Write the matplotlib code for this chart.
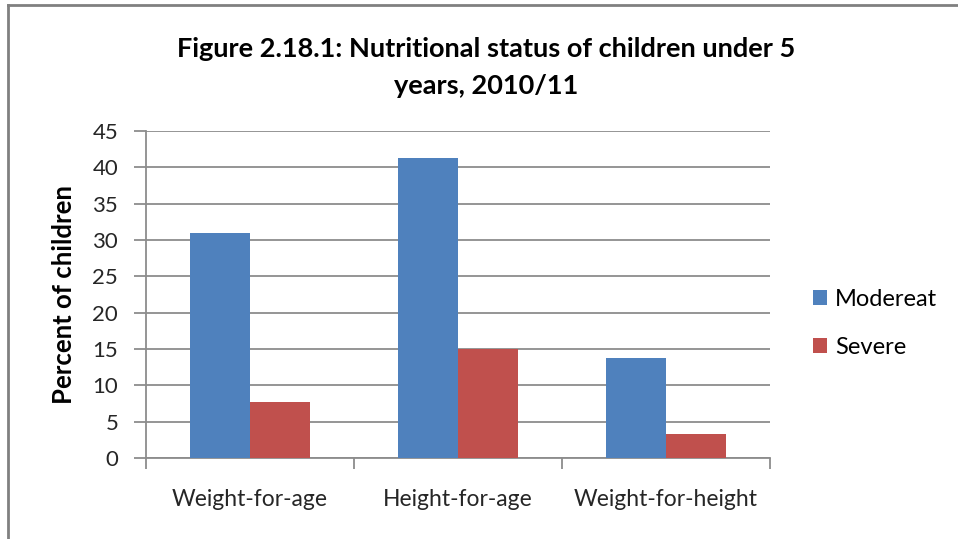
import numpy as np
import matplotlib.pyplot as plt

categories = ['Weight-for-age', 'Height-for-age', 'Weight-for-height']
moderate = [31.0, 41.3, 13.7]
severe = [7.7, 15.0, 3.3]
series_names = ['Modereat', 'Severe']
yticks = [0, 5, 10, 15, 20, 25, 30, 35, 40, 45]

plt.rcParams['font.family'] = ['Lato', 'DejaVu Sans']

fig = plt.figure(figsize=(9.58, 5.39), dpi=100)
ax = fig.add_axes([0.1524, 0.1503, 0.8038 - 0.1524, 0.757 - 0.1503])

x = np.arange(len(categories))
w = 0.29
b1 = ax.bar(x - w / 2, moderate, w, color='#4F81BD', label=series_names[0], zorder=3)
b2 = ax.bar(x + w / 2, severe, w, color='#C0504D', label=series_names[1], zorder=3)

ax.set_xlim(-0.5, len(categories) - 0.5)
ax.set_ylim(0, 45)
ax.set_yticks(yticks)
ax.yaxis.grid(True, color='#8c8c8c', linewidth=1.3, zorder=0)
ax.set_axisbelow(True)

for s in ['top', 'right']:
    ax.spines[s].set_visible(False)
for s in ['left', 'bottom']:
    ax.spines[s].set_color('#8c8c8c')
    ax.spines[s].set_linewidth(1.3)

# category ticks sit between the groups
ax.set_xticks(np.arange(-0.5, len(categories), 1.0))
ax.set_xticklabels([])
ax.set_xticks(x, minor=True)
ax.set_xticklabels(categories, minor=True, fontsize=16.5, color='#262626')
ax.tick_params(axis='x', which='major', length=8, color='#8c8c8c', width=1.3)
ax.tick_params(axis='x', which='minor', length=0, pad=22)
ax.tick_params(axis='y', length=9, color='#8c8c8c', width=1.3, labelsize=16,
               labelcolor='#262626', pad=11)

ax.set_ylabel('Percent of children', fontsize=18.5, fontweight='bold', labelpad=12)

fig.text(0.507, 0.91, 'Figure 2.18.1: Nutritional status of children under 5',
         ha='center', va='center', fontsize=19.5, fontweight='bold')
fig.text(0.507, 0.84, 'years, 2010/11', ha='center', va='center',
         fontsize=19.5, fontweight='bold')

leg = fig.legend(handles=[b1, b2], loc='center left', bbox_to_anchor=(0.826, 0.4), frameon=False,
                 fontsize=17, handlelength=0.6, handleheight=0.6, labelspacing=1.15,
                 handletextpad=0.35)

# chart area border (top and left visible)
fig.add_artist(plt.Line2D([0.008, 1.0], [0.991, 0.991], color='#808080', linewidth=2,
                          transform=fig.transFigure))
fig.add_artist(plt.Line2D([0.008, 0.008], [0.0, 0.991], color='#808080', linewidth=2,
                          transform=fig.transFigure))

fig.savefig('out.png', dpi=100)
